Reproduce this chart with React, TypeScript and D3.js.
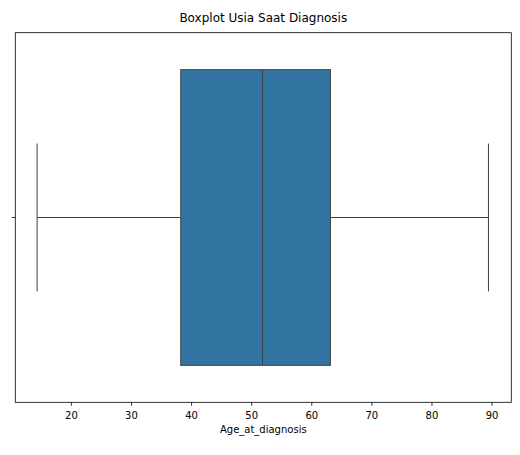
import * as d3 from "d3";
import * as React from "react";

const categories = [""];
const whiskerLow = [14.3];
const q1 = [38.2];
const median = [51.8];
const q3 = [63.1];
const whiskerHigh = [89.4];
const xTicks = [20, 30, 40, 50, 60, 70, 80, 90];

const W = 520, H = 455;
const margin = { top: 32.7, right: 8.7, bottom: 52.7, left: 15.3 };

export default function App() {
  const iw = W - margin.left - margin.right;
  const ih = H - margin.top - margin.bottom;
  const x = d3.scaleLinear().domain([10.67, 93.2]).range([0, iw]);
  const y = d3.scaleBand().domain(categories).range([0, ih]);
  const bw = y.bandwidth() * 0.8;
  const font = "DejaVu Sans, sans-serif";
  const stroke = "#3f3f3f";

  return (
    <svg width={W} height={H} style={{ position: "absolute", left: 0, top: 0 }}>
      <rect width={W} height={H} fill="#fff" />
      <text x={margin.left + iw / 2} y={22} textAnchor="middle" fontFamily={font} fontSize={12}>
        Boxplot Usia Saat Diagnosis
      </text>
      <g transform={`translate(${margin.left},${margin.top})`}>
        {categories.map((c, i) => {
          const cy = (y(c) ?? 0) + y.bandwidth() / 2;
          const capH = bw / 2;
          return (
            <g key={i}>
              <line x1={x(whiskerLow[i])} x2={x(q1[i])} y1={cy} y2={cy} stroke={stroke} />
              <line x1={x(q3[i])} x2={x(whiskerHigh[i])} y1={cy} y2={cy} stroke={stroke} />
              <line x1={x(whiskerLow[i])} x2={x(whiskerLow[i])} y1={cy - capH / 2} y2={cy + capH / 2} stroke={stroke} />
              <line x1={x(whiskerHigh[i])} x2={x(whiskerHigh[i])} y1={cy - capH / 2} y2={cy + capH / 2} stroke={stroke} />
              <rect x={x(q1[i])} y={cy - bw / 2} width={x(q3[i]) - x(q1[i])} height={bw} fill="#3274a1" stroke={stroke} />
              <line x1={x(median[i])} x2={x(median[i])} y1={cy - bw / 2} y2={cy + bw / 2} stroke={stroke} />
              <line x1={-3.5} x2={0} y1={cy} y2={cy} stroke="#000" strokeWidth={0.8} />
            </g>
          );
        })}
        <rect x={0} y={0} width={iw} height={ih} fill="none" stroke="#000" strokeWidth={0.8} />
        {xTicks.map((t) => (
          <g key={t} transform={`translate(${x(t)},${ih})`}>
            <line y2={3.5} stroke="#000" strokeWidth={0.8} />
            <text y={17} textAnchor="middle" fontFamily={font} fontSize={10}>{t}</text>
          </g>
        ))}
        <text x={iw / 2} y={ih + 31} textAnchor="middle" fontFamily={font} fontSize={10}>
          Age_at_diagnosis
        </text>
      </g>
    </svg>
  );
}
